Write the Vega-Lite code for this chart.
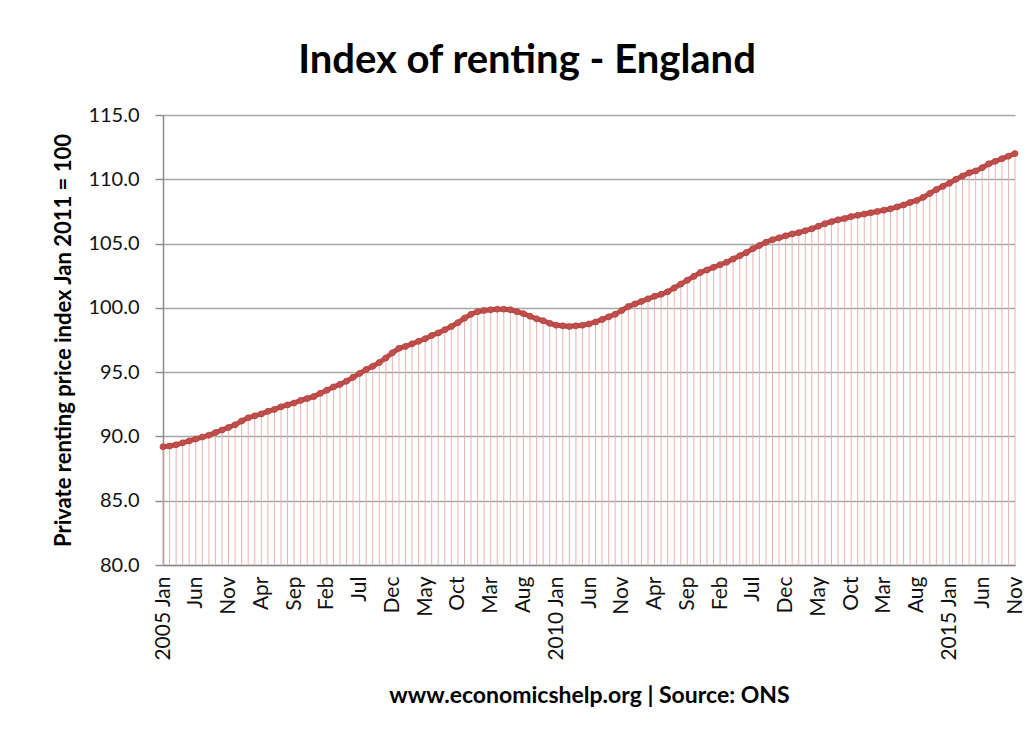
{
  "$schema": "https://vega.github.io/schema/vega-lite/v6.json",
  "autosize": "none",
  "width": 852,
  "height": 450,
  "padding": {"left": 163, "top": 115, "right": 17, "bottom": 174},
  "background": "white",
  "title": {
    "text": "Index of renting - England",
    "font": "Lato",
    "fontSize": 40,
    "fontWeight": "bold",
    "color": "#000000",
    "anchor": "middle",
    "dx": -62,
    "offset": 24
  },
  "data": {
    "values": [
      {"month": "2005-01", "index": 89.2},
      {"month": "2005-02", "index": 89.25},
      {"month": "2005-03", "index": 89.35},
      {"month": "2005-04", "index": 89.5},
      {"month": "2005-05", "index": 89.65},
      {"month": "2005-06", "index": 89.8},
      {"month": "2005-07", "index": 89.95},
      {"month": "2005-08", "index": 90.1},
      {"month": "2005-09", "index": 90.3},
      {"month": "2005-10", "index": 90.5},
      {"month": "2005-11", "index": 90.7},
      {"month": "2005-12", "index": 90.9},
      {"month": "2006-01", "index": 91.2},
      {"month": "2006-02", "index": 91.45},
      {"month": "2006-03", "index": 91.6},
      {"month": "2006-04", "index": 91.75},
      {"month": "2006-05", "index": 91.95},
      {"month": "2006-06", "index": 92.1},
      {"month": "2006-07", "index": 92.3},
      {"month": "2006-08", "index": 92.45},
      {"month": "2006-09", "index": 92.6},
      {"month": "2006-10", "index": 92.8},
      {"month": "2006-11", "index": 92.95},
      {"month": "2006-12", "index": 93.1},
      {"month": "2007-01", "index": 93.35},
      {"month": "2007-02", "index": 93.6},
      {"month": "2007-03", "index": 93.85},
      {"month": "2007-04", "index": 94.05},
      {"month": "2007-05", "index": 94.3},
      {"month": "2007-06", "index": 94.6},
      {"month": "2007-07", "index": 94.9},
      {"month": "2007-08", "index": 95.2},
      {"month": "2007-09", "index": 95.45},
      {"month": "2007-10", "index": 95.75},
      {"month": "2007-11", "index": 96.1},
      {"month": "2007-12", "index": 96.5},
      {"month": "2008-01", "index": 96.85},
      {"month": "2008-02", "index": 97.0},
      {"month": "2008-03", "index": 97.2},
      {"month": "2008-04", "index": 97.4},
      {"month": "2008-05", "index": 97.6},
      {"month": "2008-06", "index": 97.85},
      {"month": "2008-07", "index": 98.05},
      {"month": "2008-08", "index": 98.3},
      {"month": "2008-09", "index": 98.55},
      {"month": "2008-10", "index": 98.85},
      {"month": "2008-11", "index": 99.2},
      {"month": "2008-12", "index": 99.5},
      {"month": "2009-01", "index": 99.7},
      {"month": "2009-02", "index": 99.8},
      {"month": "2009-03", "index": 99.85},
      {"month": "2009-04", "index": 99.9},
      {"month": "2009-05", "index": 99.9},
      {"month": "2009-06", "index": 99.85},
      {"month": "2009-07", "index": 99.7},
      {"month": "2009-08", "index": 99.55},
      {"month": "2009-09", "index": 99.35},
      {"month": "2009-10", "index": 99.15},
      {"month": "2009-11", "index": 99.0},
      {"month": "2009-12", "index": 98.8},
      {"month": "2010-01", "index": 98.65},
      {"month": "2010-02", "index": 98.6},
      {"month": "2010-03", "index": 98.55},
      {"month": "2010-04", "index": 98.6},
      {"month": "2010-05", "index": 98.65},
      {"month": "2010-06", "index": 98.75},
      {"month": "2010-07", "index": 98.9},
      {"month": "2010-08", "index": 99.1},
      {"month": "2010-09", "index": 99.3},
      {"month": "2010-10", "index": 99.5},
      {"month": "2010-11", "index": 99.8},
      {"month": "2010-12", "index": 100.1},
      {"month": "2011-01", "index": 100.3},
      {"month": "2011-02", "index": 100.5},
      {"month": "2011-03", "index": 100.7},
      {"month": "2011-04", "index": 100.9},
      {"month": "2011-05", "index": 101.05},
      {"month": "2011-06", "index": 101.25},
      {"month": "2011-07", "index": 101.55},
      {"month": "2011-08", "index": 101.85},
      {"month": "2011-09", "index": 102.15},
      {"month": "2011-10", "index": 102.45},
      {"month": "2011-11", "index": 102.75},
      {"month": "2011-12", "index": 102.95},
      {"month": "2012-01", "index": 103.15},
      {"month": "2012-02", "index": 103.35},
      {"month": "2012-03", "index": 103.55},
      {"month": "2012-04", "index": 103.8},
      {"month": "2012-05", "index": 104.05},
      {"month": "2012-06", "index": 104.3},
      {"month": "2012-07", "index": 104.6},
      {"month": "2012-08", "index": 104.85},
      {"month": "2012-09", "index": 105.1},
      {"month": "2012-10", "index": 105.3},
      {"month": "2012-11", "index": 105.45},
      {"month": "2012-12", "index": 105.6},
      {"month": "2013-01", "index": 105.75},
      {"month": "2013-02", "index": 105.85},
      {"month": "2013-03", "index": 106.0},
      {"month": "2013-04", "index": 106.15},
      {"month": "2013-05", "index": 106.35},
      {"month": "2013-06", "index": 106.55},
      {"month": "2013-07", "index": 106.7},
      {"month": "2013-08", "index": 106.85},
      {"month": "2013-09", "index": 106.95},
      {"month": "2013-10", "index": 107.1},
      {"month": "2013-11", "index": 107.2},
      {"month": "2013-12", "index": 107.3},
      {"month": "2014-01", "index": 107.4},
      {"month": "2014-02", "index": 107.5},
      {"month": "2014-03", "index": 107.6},
      {"month": "2014-04", "index": 107.7},
      {"month": "2014-05", "index": 107.85},
      {"month": "2014-06", "index": 108.0},
      {"month": "2014-07", "index": 108.2},
      {"month": "2014-08", "index": 108.35},
      {"month": "2014-09", "index": 108.6},
      {"month": "2014-10", "index": 108.9},
      {"month": "2014-11", "index": 109.2},
      {"month": "2014-12", "index": 109.45},
      {"month": "2015-01", "index": 109.7},
      {"month": "2015-02", "index": 110.0},
      {"month": "2015-03", "index": 110.25},
      {"month": "2015-04", "index": 110.5},
      {"month": "2015-05", "index": 110.65},
      {"month": "2015-06", "index": 110.9},
      {"month": "2015-07", "index": 111.2},
      {"month": "2015-08", "index": 111.4},
      {"month": "2015-09", "index": 111.6},
      {"month": "2015-10", "index": 111.8},
      {"month": "2015-11", "index": 112.0}
    ]
  },
  "encoding": {
    "x": {
      "field": "month",
      "type": "ordinal",
      "sort": null,
      "scale": {"type": "point", "padding": 0},
      "axis": {
        "title": "www.economicshelp.org | Source: ONS",
        "titleFont": "Lato",
        "titleFontSize": 23,
        "titleFontWeight": "bold",
        "titleColor": "#000000",
        "titlePadding": 24,
        "values": ["2005-01","2005-06","2005-11","2006-04","2006-09","2007-02","2007-07","2007-12","2008-05","2008-10","2009-03","2009-08","2010-01","2010-06","2010-11","2011-04","2011-09","2012-02","2012-07","2012-12","2013-05","2013-10","2014-03","2014-08","2015-01","2015-06","2015-11"],
        "labelExpr": "(substring(datum.value,5,7)=='01' ? substring(datum.value,0,4) + ' ' : '') + ['Jan','Feb','Mar','Apr','May','Jun','Jul','Aug','Sep','Oct','Nov','Dec'][toNumber(substring(datum.value,5,7))-1]",
        "labelAngle": 270,
        "labelAlign": "right",
        "labelBaseline": "middle",
        "labelFont": "Lato",
        "labelFontSize": 21,
        "labelColor": "#111111",
        "labelPadding": 11,
        "labelOverlap": false,
        "ticks": false,
        "grid": false,
        "domainColor": "#8c8c8c",
        "domainWidth": 1.5
      }
    },
    "y": {
      "field": "index",
      "type": "quantitative",
      "scale": {"domain": [80, 115], "nice": false, "zero": false},
      "axis": {
        "title": "Private renting price index Jan 2011 = 100",
        "titleFont": "Lato",
        "titleFontSize": 22,
        "titleFontWeight": "bold",
        "titleColor": "#000000",
        "titlePadding": 12,
        "values": [80, 85, 90, 95, 100, 105, 110, 115],
        "format": ".1f",
        "labelFont": "Lato",
        "labelFontSize": 20,
        "labelColor": "#111111",
        "labelPadding": 16,
        "tickSize": 8,
        "tickColor": "#8c8c8c",
        "tickWidth": 1.5,
        "grid": true,
        "gridColor": "#a6a6a6",
        "gridWidth": 1.5,
        "domainColor": "#8c8c8c",
        "domainWidth": 1.5
      }
    }
  },
  "layer": [
    {
      "mark": {"type": "rule", "color": "#e8b4b3", "strokeWidth": 1},
      "encoding": {"y2": {"datum": 80}}
    },
    {
      "mark": {"type": "line", "color": "#c0504d", "strokeWidth": 5}
    },
    {
      "mark": {"type": "point", "shape": "circle", "filled": true, "color": "#c0504d", "size": 36, "opacity": 1, "stroke": "#b5413e", "strokeWidth": 0.8}
    }
  ],
  "config": {
    "view": {"stroke": null}
  }
}
